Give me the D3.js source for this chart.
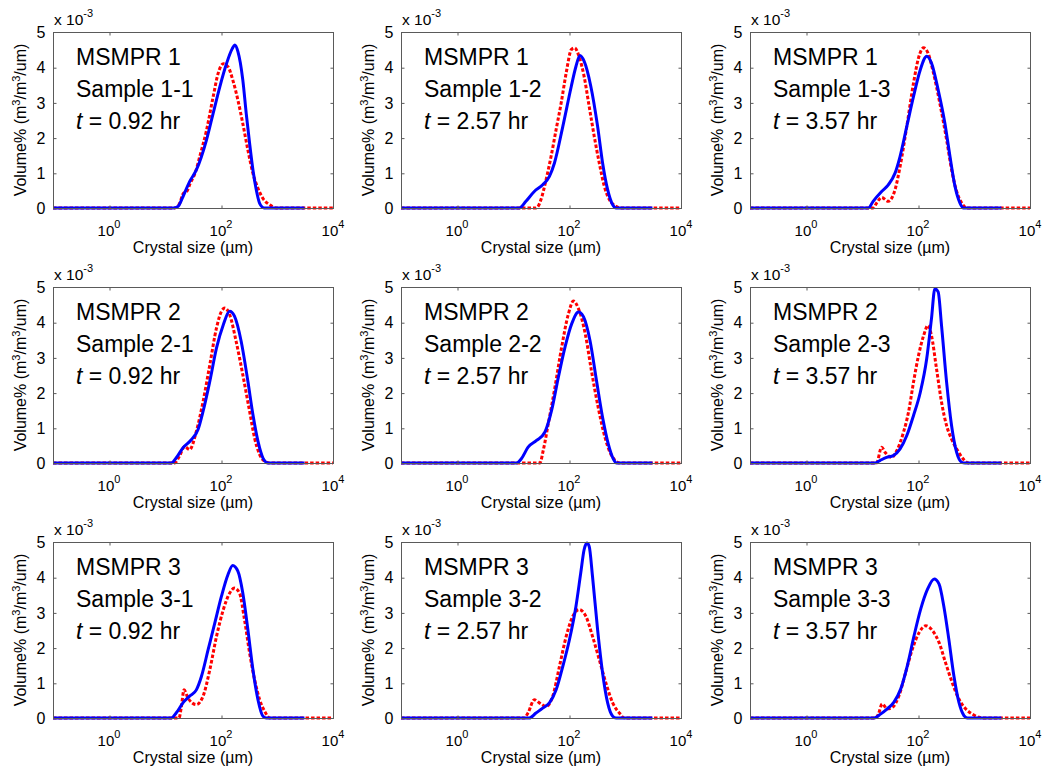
<!DOCTYPE html>
<html>
<head>
<meta charset="utf-8">
<script src="https://cdn.jsdelivr.net/npm/d3@7"></script>
<style>
  body { margin: 0; background: #fff; }
  svg { display: block; }
  text { font-family: "Liberation Sans", Arial, Helvetica, sans-serif; fill: #000; }
</style>
</head>
<body>
<svg id="chart" width="1046" height="771"></svg>
<script>
// Rows: reactor; columns: sampling time
const reactors = ["MSMPR 1", "MSMPR 2", "MSMPR 3"];
const sampleTimes = ["0.92", "2.57", "3.57"];
const xTickValues = [1, 100, 10000];
const xTickExponents = ["0", "2", "4"];
const yTickValues = [0, 1, 2, 3, 4, 5];

// Crystal size distributions: [crystal size (µm), volume density (×10^-3)]
// Blue solid curves
const blueCSD11 = [[0.1,0],[14.1,0],[17,0.04],[20.9,0.32],[27.5,0.75],[36.3,1.08],[55,1.93],[72.4,2.69],[95.5,3.45],[126,4.11],[158,4.52],[176,4.63],[200,4.45],[245,3.64],[282,2.69],[324,1.84],[372,1.08],[427,0.51],[490,0.13],[589,0],[3090,0]];
const blueCSD12 = [[0.1,0],[13,0],[17,0.19],[24,0.47],[33.9,0.66],[44.7,0.9],[55,1.28],[77.6,2.32],[110,3.46],[133,4.02],[157,4.33],[186,4.17],[245,3.46],[324,2.32],[398,1.28],[490,0.52],[603,0.09],[692,0],[3090,0]];
const blueCSD13 = [[0.1,0],[13,0],[15.8,0.19],[22.4,0.47],[29.5,0.66],[38.9,0.99],[47.9,1.47],[63.1,2.32],[83.2,3.17],[110,3.93],[143,4.31],[174,4.12],[229,3.36],[302,2.41],[372,1.47],[457,0.62],[562,0.14],[646,0],[3090,0]];
const blueCSD21 = [[0.1,0],[13,0],[15.8,0.14],[20.9,0.43],[29.5,0.66],[38.9,0.95],[47.9,1.47],[63.1,2.32],[83.2,3.27],[110,3.93],[143,4.31],[174,4.17],[229,3.46],[302,2.32],[372,1.37],[457,0.62],[562,0.14],[692,0],[3090,0]];
const blueCSD22 = [[0.1,0],[11.6,0],[14.1,0.12],[18.6,0.45],[26.3,0.64],[37.2,0.88],[49,1.5],[64.6,2.44],[85.1,3.3],[112,3.96],[148,4.29],[182,4.15],[237,3.48],[309,2.35],[407,1.21],[501,0.55],[617,0.12],[708,0],[3090,0]];
const blueCSD23 = [[0.1,0],[17,0],[20.9,0.07],[27.5,0.16],[36.3,0.21],[47.9,0.4],[63.1,0.78],[83.2,1.35],[110,2.01],[143,2.96],[174,4.1],[200,4.95],[229,4.86],[263,3.91],[324,2.3],[398,1.06],[490,0.3],[603,0.02],[692,0],[3090,0]];
const blueCSD31 = [[0.1,0],[13,0],[15.8,0.14],[20.9,0.43],[27.5,0.62],[36.3,0.8],[44.7,1.18],[58.9,1.94],[77.6,2.7],[102,3.46],[133,4.07],[162,4.33],[200,4.17],[245,3.55],[302,2.51],[372,1.37],[457,0.52],[562,0.05],[646,0],[3090,0]];
const blueCSD32 = [[0.1,0],[19.5,0],[25.7,0.14],[33.9,0.28],[44.7,0.43],[58.9,0.8],[77.6,1.47],[102,2.23],[133,3.17],[162,4.12],[186,4.78],[209,4.97],[229,4.88],[263,4.02],[324,2.51],[398,1.28],[490,0.43],[603,0.05],[692,0],[3090,0]];
const blueCSD33 = [[0.1,0],[16.4,0],[21.4,0.11],[28.2,0.26],[37.2,0.45],[49,0.82],[64.6,1.49],[85.1,2.34],[112,3.1],[148,3.66],[195,3.95],[237,3.81],[288,3.19],[355,2.24],[437,1.2],[537,0.45],[661,0.07],[759,0],[3090,0]];

// Red dotted curves
const redCSD11 = [[0.1,0],[14.8,0],[18.2,0.13],[21.4,0.42],[24,0.45],[28.2,0.7],[35.5,1.05],[41.7,1.46],[55,2.2],[72.4,3.16],[89.1,3.83],[110,4.1],[135,4.0],[162,3.64],[200,3.07],[245,2.4],[302,1.65],[372,0.98],[457,0.56],[562,0.27],[741,0.09],[977,0],[10000,0]];
const redCSD12 = [[0.1,0],[25,0],[27.5,0.03],[31.6,0.24],[38.9,0.8],[47.9,1.47],[58.9,2.23],[72.4,2.98],[89.1,3.84],[110,4.5],[126,4.55],[151,4.31],[186,3.74],[229,2.89],[282,2.04],[347,1.28],[427,0.62],[525,0.24],[692,0.05],[851,0],[10000,0]];
const redCSD13 = [[0.1,0],[15.8,0],[18.2,0.14],[22.4,0.3],[29.5,0.19],[38.9,0.52],[47.9,1.18],[63.1,2.32],[83.2,3.55],[102,4.26],[126,4.55],[151,4.4],[186,3.88],[245,2.98],[324,1.94],[398,1.09],[490,0.47],[603,0.14],[741,0],[10000,0]];
const redCSD21 = [[0.1,0],[14.8,0],[18.2,0.2],[22.4,0.47],[27.5,0.38],[36.3,0.9],[47.9,1.75],[63.1,2.79],[83.2,3.84],[102,4.31],[117,4.4],[143,4.21],[186,3.46],[245,2.51],[324,1.47],[398,0.71],[490,0.24],[603,0.05],[741,0],[10000,0]];
const redCSD22 = [[0.1,0],[30.2,0],[34.7,0.36],[42.7,1.12],[56.2,2.16],[74.1,3.3],[97.7,4.24],[120,4.6],[148,4.38],[195,3.67],[251,2.63],[331,1.59],[437,0.74],[537,0.31],[661,0.08],[813,0],[10000,0]];
const redCSD23 = [[0.1,0],[18.2,0],[22.4,0.45],[26,0.3],[33.9,0.16],[41.7,0.35],[55,0.87],[67.6,1.44],[83.2,2.3],[102,3.05],[126,3.62],[151,3.91],[174,3.62],[214,2.68],[263,1.73],[324,1.06],[398,0.68],[490,0.4],[646,0.11],[794,0],[10000,0]];
const redCSD31 = [[0.1,0],[17.8,0],[19.5,0.3],[21.9,0.8],[25.7,0.57],[36.3,0.38],[47.9,0.62],[63.1,1.37],[83.2,2.32],[110,3.08],[143,3.55],[174,3.69],[214,3.55],[263,2.79],[324,1.85],[398,1.09],[490,0.52],[603,0.19],[741,0],[10000,0]];
const redCSD32 = [[0.1,0],[15.8,0],[18.6,0.15],[24,0.52],[29.5,0.43],[38.9,0.33],[51.3,0.62],[67.6,1.47],[89.1,2.32],[117,2.89],[151,3.08],[200,2.89],[263,2.32],[347,1.66],[457,0.99],[603,0.43],[794,0.14],[977,0],[10000,0]];
const redCSD33 = [[0.1,0],[17.4,0],[19.5,0.1],[22.9,0.4],[28.2,0.26],[34.7,0.3],[45.7,0.63],[60.3,1.3],[79.4,1.96],[105,2.43],[138,2.62],[182,2.48],[237,2.15],[309,1.58],[407,1.01],[537,0.54],[708,0.26],[933,0.11],[1230,0.02],[1514,0],[10000,0]];

const blueCurves = [[blueCSD11, blueCSD12, blueCSD13], [blueCSD21, blueCSD22, blueCSD23], [blueCSD31, blueCSD32, blueCSD33]];
const redCurves = [[redCSD11, redCSD12, redCSD13], [redCSD21, redCSD22, redCSD23], [redCSD31, redCSD32, redCSD33]];

// Panel grid
const colLeft = [53, 401, 750];
const rowTop = [32, 287, 542];
const W = 280, H = 176;

const svg = d3.select("#chart");
const x = d3.scaleLog().domain([0.1, 1e4]).range([0, W]);
const y = d3.scaleLinear().domain([0, 5]).range([H, 0]);
const line = d3.line().x(d => x(d[0])).y(d => y(d[1])).curve(d3.curveMonotoneX);

svg.append("defs").append("clipPath").attr("id", "plotClip")
  .append("rect").attr("x", 0).attr("y", -2).attr("width", W).attr("height", H + 4);

const axisColor = "#5a5a5a";

reactors.forEach((reactor, i) => {
  sampleTimes.forEach((time, j) => {
    const g = svg.append("g").attr("transform", `translate(${colLeft[j]},${rowTop[i]})`);

    // Curves
    const plot = g.append("g").attr("clip-path", "url(#plotClip)");
    plot.append("path").datum(redCurves[i][j]).attr("d", line)
      .attr("fill", "none").attr("stroke", "#ff0000").attr("stroke-width", 3)
      .attr("stroke-dasharray", "3.5,2");
    plot.append("path").datum(blueCurves[i][j]).attr("d", line)
      .attr("fill", "none").attr("stroke", "#0000ff").attr("stroke-width", 3)
      .attr("stroke-linejoin", "round");

    // Axes (ticks pointing inward)
    const styleAxis = sel => {
      sel.select(".domain").remove();
      sel.selectAll(".tick line").attr("stroke", axisColor);
    };
    g.append("g").attr("transform", `translate(0.5,${H + 0.5})`)
      .call(d3.axisBottom(x).tickValues([1, 100]).tickSize(-3).tickFormat(""))
      .call(styleAxis);
    g.append("g").attr("transform", "translate(0.5,0.5)")
      .call(d3.axisTop(x).tickValues([1, 100]).tickSize(-3).tickFormat(""))
      .call(styleAxis);
    g.append("g").attr("transform", `translate(${W + 0.5},0.5)`)
      .call(d3.axisRight(y).tickValues(yTickValues.slice(1, 5)).tickSize(-3).tickFormat(""))
      .call(styleAxis);
    const yAxis = g.append("g").attr("transform", "translate(0.5,0.5)")
      .call(d3.axisLeft(y).tickValues(yTickValues).tickSizeInner(-3).tickSizeOuter(0).tickPadding(8).tickFormat(d3.format("d")))
      .call(styleAxis);
    yAxis.selectAll(".tick line").filter(d => d === 0 || d === 5).remove();
    yAxis.selectAll(".tick text")
      .attr("font-family", "Liberation Sans, Arial, sans-serif")
      .attr("font-size", 16).attr("fill", "#000");

    // Frame
    g.append("rect").attr("x", 0.5).attr("y", 0.5).attr("width", W).attr("height", H)
      .attr("fill", "none").attr("stroke", axisColor).attr("stroke-width", 1);

    // x tick labels as powers of ten
    xTickValues.forEach((v, k) => {
      const t = g.append("text").attr("x", x(v)).attr("y", H + 28)
        .attr("text-anchor", "middle").attr("font-size", 15);
      t.append("tspan").text("10");
      t.append("tspan").attr("dy", -8).attr("font-size", 11).text(xTickExponents[k]);
    });

    // Exponent of the y axis
    const ex = g.append("text").attr("x", 1).attr("y", -7).attr("font-size", 15.5);
    ex.append("tspan").text("x 10");
    ex.append("tspan").attr("dy", -8).attr("font-size", 11).text("-3");

    // Axis titles
    g.append("text").attr("x", W / 2).attr("y", H + 45)
      .attr("text-anchor", "middle").attr("font-size", 16).text("Crystal size (\u00b5m)");
    const yl = g.append("text")
      .attr("transform", `translate(-27,${H / 2}) rotate(-90)`)
      .attr("text-anchor", "middle").attr("font-size", 16);
    yl.append("tspan").text("Volume% (m");
    yl.append("tspan").attr("dy", -6).attr("font-size", 11).text("3");
    yl.append("tspan").attr("dy", 6).text("/m");
    yl.append("tspan").attr("dy", -6).attr("font-size", 11).text("3");
    yl.append("tspan").attr("dy", 6).text("/um)");

    // Panel annotation
    const ann = g.append("g");
    ann.append("text").attr("x", 23).attr("y", 33).attr("font-size", 23).text(reactor);
    ann.append("text").attr("x", 23).attr("y", 65).attr("font-size", 23).text(`Sample ${i + 1}-${j + 1}`);
    const tt = ann.append("text").attr("x", 23).attr("y", 97).attr("font-size", 23);
    tt.append("tspan").attr("font-style", "italic").text("t");
    tt.append("tspan").text(` = ${time} hr`);
  });
});
</script>
</body>
</html>
